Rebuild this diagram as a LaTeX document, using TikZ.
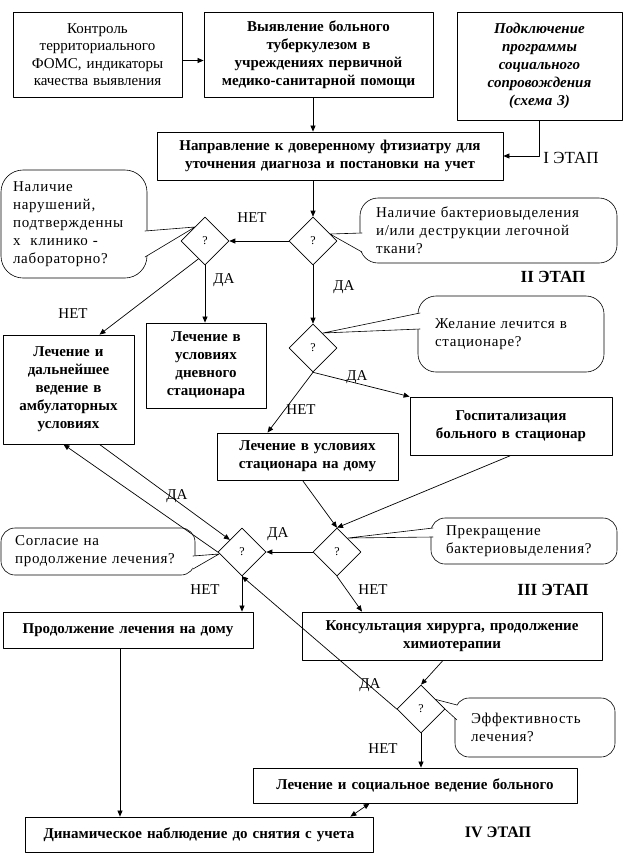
\documentclass[tikz,border=0pt]{standalone}
\usepackage{fontspec}
\setmainfont{Liberation Serif}
\newfontfamily\spacedserif{Liberation Serif}[LetterSpace=5]
\usetikzlibrary{arrows.meta,shapes.geometric}

\begin{document}
\begin{tikzpicture}[line cap=round,line join=round,>={Triangle[length=6pt,width=5pt]},x=1pt,y=-1pt,
    box/.style={draw,line width=0.8pt,fill=white,align=center,inner sep=0pt,font=\fontsize{15}{18}\selectfont\bfseries},
    plainbox/.style={box,font=\fontsize{15}{17.5}\selectfont},
    ask/.style={diamond,draw,line width=0.6pt,fill=white,minimum width=48pt,minimum height=48pt,inner sep=0pt,font=\fontsize{12}{14}\selectfont},
    note/.style={draw,line width=0.6pt,fill=white,rounded corners=14pt,align=left,inner ysep=0pt,font=\fontsize{15}{18}\spacedserif},
    lbl/.style={font=\fontsize{15}{18}\selectfont,inner sep=0pt},
    stage/.style={font=\fontsize{17}{20}\selectfont\bfseries,inner sep=0pt}]
                \useasboundingbox (0,0) rectangle (626,865);
                % callouts
                \node[note,minimum width=142pt,minimum height=108pt,text width=122pt,inner xsep=12pt,rounded corners=22pt] (oc1) at (74,224) {Наличие\\нарушений,\\подтвержденны\\х\ \ клинико -\\лабораторно?};
                \fill[white] (144.5,231) -- (195,227) -- (144.5,257) -- cycle;
                \draw [line width=0.6pt] (145,231) -- (195,227) -- (145,257);
                \node[note,minimum width=253pt,minimum height=65pt,text width=225pt,inner xsep=16pt,rounded corners=18pt] (oc2) at (488.5,230.5) {Наличие бактериовыделения\\и/или деструкции легочной\\ткани?};
                \fill[white] (362.5,233) -- (330,234) -- (362.5,252) -- cycle;
                \draw [line width=0.6pt] (362,233) -- (330,234) -- (362,252);
                \node[note,minimum width=182pt,minimum height=76pt,text width=152pt,inner xsep=17pt,rounded corners=18pt] (oc3) at (511,334) {Желание лечится в\\стационаре?};
                \fill[white] (420.5,313) -- (323,333) -- (420.5,329) -- cycle;
                \draw [line width=0.6pt] (420,313) -- (323,333) -- (420,329);
                \node[note,minimum width=182pt,minimum height=46pt,text width=156pt,inner xsep=15pt] (oc4) at (524,541) {Прекращение\\бактериовыделения?};
                \fill[white] (433.5,528) -- (348,538) -- (433.5,537) -- cycle;
                \draw [line width=0.6pt] (433,528) -- (348,538) -- (433,537);
                \node[note,minimum width=190pt,minimum height=47pt,text width=166pt,inner xsep=14pt] (oc5) at (98,551.5) {Согласие на\\продолжение лечения?};
                \fill[white] (192.5,556) -- (219,554) -- (192.5,569) -- cycle;
                \draw [line width=0.6pt] (193,556) -- (219,554) -- (193,569);
                \node[note,minimum width=156pt,minimum height=59pt,text width=128pt,inner xsep=16pt] (oc6) at (535,727.5) {Эффективность\\лечения?};
                \fill[white] (457.5,705) -- (434,699) -- (457.5,720) -- cycle;
                \draw [line width=0.6pt] (457,705) -- (434,699) -- (457,720);
                % boxes
                \node[plainbox,minimum width=169pt,minimum height=85pt,text width=163pt] (kontrol) at (97.5,54.5) {Контроль\\территориального\\ФОМС, индикаторы\\качества выявления};
                \node[box,minimum width=229pt,minimum height=85pt,text width=225pt] (vyyav) at (318.5,54.5) {Выявление больного\\туберкулезом в\\учреждениях первичной\\медико-санитарной помощи};
                \node[box,font=\fontsize{15}{18}\selectfont\bfseries\itshape,minimum width=165pt,minimum height=108pt,text width=160pt] (podkl) at (539.5,66) {Подключение\\программы\\социального\\сопровождения\\(схема 3)};
                \node[box,minimum width=346pt,minimum height=48pt,text width=340pt] (napr) at (330,156) {Направление к доверенному фтизиатру для\\уточнения диагноза и постановки на учет};
                \node[box,minimum width=120pt,minimum height=85pt,text width=116pt] (dnevn) at (206,365.5) {Лечение в\\условиях\\дневного\\стационара};
                \node[box,minimum width=131pt,minimum height=109pt,text width=127pt] (ambul) at (68.5,389.5) {Лечение и\\дальнейшее\\ведение в\\амбулаторных\\условиях};
                \node[box,minimum width=202pt,minimum height=58pt,text width=196pt] (gosp) at (511,426) {Госпитализация\\больного в стационар};
                \node[box,minimum width=181pt,minimum height=47pt,text width=177pt] (dom) at (307.5,456.5) {Лечение в условиях\\стационара на дому};
                \node[box,minimum width=250pt,minimum height=36pt,text width=246pt] (prod) at (128,630) {Продолжение лечения на дому};
                \node[box,minimum width=300pt,minimum height=48pt,text width=296pt] (konsult) at (452,636) {Консультация хирурга, продолжение\\химиотерапии};
                \node[box,minimum width=324pt,minimum height=35pt,text width=320pt] (soc) at (415,785.5) {Лечение и социальное ведение больного};
                \node[box,minimum width=348pt,minimum height=35pt,text width=344pt] (dinam) at (199,834.5) {Динамическое наблюдение до снятия с учета};
                % decisions
                \node[ask] (dq1) at (313,241) {?};
                \node[ask] (dq2) at (205,241) {?};
                \node[ask] (dq3) at (313,348) {?};
                \node[ask] (dq4) at (337,552) {?};
                \node[ask] (dq5) at (242,552) {?};
                \node[ask] (dq6) at (421,709) {?};
                % connectors
                \begin{scope}[line width=0.7pt]
                    \draw [->] (kontrol.-4) -- (vyyav.183);
                    \draw [->] (vyyav.south -| dq1.north) -- (napr.north -| dq1.north);
                    \draw [->] (podkl.south) |- (napr.east);
                    \draw [->] (napr.south -| dq1.north) -- (dq1.north);
                    \draw [->] (dq1.west) -- (dq2.east);
                    \draw [->] (dq2.south) -- (dnevn.north -| dq2.south);
                    \draw [->] (dq2.250) -- ([xshift=31pt]ambul.north);
                    \draw [->] (dq1.south) -- (dq3.north);
                    \draw [->] (dq3.south) -- (gosp.north west);
                    \draw [->] (dq3.south) -- ([xshift=-40pt]dom.north);
                    \draw [->] ([xshift=-5pt]dom.south) -- (dq4.north);
                    \draw [->] (gosp.south) -- (dq4.north);
                    \draw [->] (dq4.west) -- (dq5.east);
                    \draw [->] ([xshift=31pt]ambul.south) -- (dq5.north west);
                    \draw [->] (dq5.west) -- ([xshift=-5pt]ambul.south);
                    \draw [->] (dq5.south) -- (prod.north -| dq5.south);
                    \draw [->] (dq4.south) -- ([xshift=-90pt]konsult.north);
                    \draw [->] ([xshift=-9pt]konsult.south) -- (dq6.north);
                    \draw [->] (dq6.west) -- (dq5.south);
                    \draw [->] (dq6.south) -- (soc.north -| dq6.south);
                    \draw [->] ([xshift=-8pt]prod.south) -- ([xshift=-79pt]dinam.north);
                    \draw [<->] ([xshift=-23pt]dinam.north east) -- ([xshift=117pt]soc.south west);
                \end{scope}
                % answers
                \node[lbl] (no1) at (252,218) {НЕТ};
                \node[lbl] (yes1) at (224,280) {ДА};
                \node[lbl] (no2) at (73,314) {НЕТ};
                \node[lbl] (yes2) at (344,287) {ДА};
                \node[lbl] (yes3) at (357,377) {ДА};
                \node[lbl] (no3) at (301,410) {НЕТ};
                \node[lbl] (yes4) at (177,496) {ДА};
                \node[lbl] (yes5) at (278,534) {ДА};
                \node[lbl] (no4) at (205,590) {НЕТ};
                \node[lbl] (no5) at (373,590) {НЕТ};
                \node[lbl] (yes6) at (370,685) {ДА};
                \node[lbl] (no6) at (383,749) {НЕТ};
                % stages
                \node[stage,font=\fontsize{17}{20}\selectfont] (st1) at (571,158) {I ЭТАП};
                \node[stage] (st2) at (553,277) {II ЭТАП};
                \node[stage] (st3) at (553,590) {III ЭТАП};
                \node[stage,font=\fontsize{16}{20}\selectfont\bfseries] (st4) at (498,832) {IV ЭТАП};
            \end{tikzpicture}
\end{document}
